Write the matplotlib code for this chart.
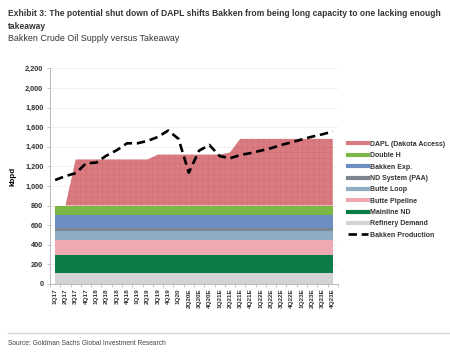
import matplotlib
matplotlib.use("Agg")
import matplotlib.pyplot as plt
from matplotlib import font_manager
import numpy as np

names = {f.name for f in font_manager.fontManager.ttflist}
FONT = "Liberation Sans Narrow" if "Liberation Sans Narrow" in names else "Liberation Sans"
plt.rcParams['font.family'] = [FONT, 'DejaVu Sans']
plt.rcParams['hatch.linewidth'] = 0.3

quarters = ["1Q17", "2Q17", "3Q17", "4Q17", "1Q18", "2Q18", "3Q18", "4Q18",
            "1Q19", "2Q19", "3Q19", "4Q19", "1Q20", "2Q20E", "3Q20E", "4Q20E",
            "1Q21E", "2Q21E", "3Q21E", "4Q21E", "1Q22E", "2Q22E", "3Q22E", "4Q22E",
            "1Q23E", "2Q23E", "3Q23E", "4Q23E"]
n = len(quarters)

refinery_demand = [110] * n
mainline_nd = [190] * n
butte_pipeline = [150] * n
butte_loop = [95] * n
nd_system = [25] * n
bakken_exp = [130] * n
double_h = [100] * n
dapl = [0, 0] + [470] * 8 + [520] * 7 + [540] + [680] * 10

bakken_production = [1060, 1100, 1130, 1230, 1238, 1310, 1365, 1435, 1435, 1460,
                     1500, 1565, 1480, 1135, 1360, 1418, 1305, 1282, 1315, 1335,
                     1360, 1385, 1418, 1445, 1475, 1503, 1527, 1555]

series = [
    ("Refinery Demand", refinery_demand, "#d3d3d3"),
    ("Mainline ND", mainline_nd, "#0c7b46"),
    ("Butte Pipeline", butte_pipeline, "#eeaab0"),
    ("Butte Loop", butte_loop, "#8eadc5"),
    ("ND System (PAA)", nd_system, "#7d8791"),
    ("Bakken Exp.", bakken_exp, "#6b8fc0"),
    ("Double H", double_h, "#7bb646"),
    ("DAPL (Dakota Access)", dapl, "#d97b80"),
]

fig = plt.figure(figsize=(4.5, 3.54), dpi=100)
ax = fig.add_axes([0.11, 0.198, 0.642, 0.609])

x = np.arange(n)
base = np.zeros(n)
handles = {}
for name, vals, col in series:
    vals = np.array(vals, dtype=float)
    if name.startswith("DAPL"):
        ax.fill_between(x, base, base + vals, facecolor=col, edgecolor="#cd6d73",
                        hatch="+++", linewidth=0, zorder=2)
    else:
        ax.fill_between(x, base, base + vals, facecolor=col, linewidth=0, zorder=2)
    handles[name] = plt.Line2D([], [], color=col, lw=3.0)
    base = base + vals

ax.plot(x, bakken_production, color="black", lw=1.9, dashes=(3.2, 1.8),
        zorder=4, dash_capstyle="butt")
handles["Bakken Production"] = plt.Line2D([], [], color="black", lw=1.9, dashes=(3.2, 1.8))

ax.set_xlim(-0.55, n - 0.45)
ax.set_ylim(0, 2200)
ax.set_yticks(np.arange(0, 2201, 200))
ax.set_yticklabels([f"{v:,}" for v in range(0, 2201, 200)], fontsize=5.3, fontweight="bold",
                   color="#333333")
ax.set_xticks(x)
ax.set_xticklabels(quarters, rotation=90, fontsize=4.6, fontweight="bold", color="#333333")
ax.set_xticks(np.arange(-0.5, n, 1), minor=True)
ax.tick_params(axis="x", which="major", length=0, pad=3)
ax.tick_params(axis="x", which="minor", length=2.5, color="#bbbbbb", width=0.6)
ax.tick_params(axis="y", length=2.5, color="#bbbbbb", width=0.6, pad=2)
ax.grid(axis="y", color="#eeeeee", lw=0.6, zorder=0)
ax.set_axisbelow(True)
for s in ["top", "right"]:
    ax.spines[s].set_visible(False)
for s in ["left", "bottom"]:
    ax.spines[s].set_color("#bbbbbb")
    ax.spines[s].set_linewidth(0.7)
ax.set_ylabel("kbpd", fontsize=5.8, fontweight="bold", labelpad=6)

order = ["DAPL (Dakota Access)", "Double H", "Bakken Exp.", "ND System (PAA)", "Butte Loop",
         "Butte Pipeline", "Mainline ND", "Refinery Demand", "Bakken Production"]
leg = fig.legend([handles[k] for k in order], order, loc="upper left",
                 bbox_to_anchor=(0.765, 0.612), frameon=False, fontsize=5.0,
                 handlelength=2.9, handletextpad=0.35, labelspacing=0.63, borderpad=0)
for t in leg.get_texts():
    t.set_fontweight("bold")
    t.set_color("#333333")

fig.text(0.018, 0.975, "Exhibit 3: The potential shut down of DAPL shifts Bakken from being long capacity to one lacking enough",
         fontsize=6.15, fontweight="bold", va="top", color="#333333")
fig.text(0.018, 0.938, "takeaway", fontsize=6.15, fontweight="bold", va="top", color="#333333")
fig.text(0.018, 0.903, "Bakken Crude Oil Supply versus Takeaway", fontsize=6.4, va="top", color="#333333")

fig.add_artist(plt.Line2D([0.018, 1.0], [0.058, 0.058], color="#d5d5d5", lw=1.0))
fig.text(0.018, 0.03, "Source: Goldman Sachs Global Investment Research", fontsize=4.8,
         va="center", color="#444444")

fig.savefig("out.png", dpi=100)
